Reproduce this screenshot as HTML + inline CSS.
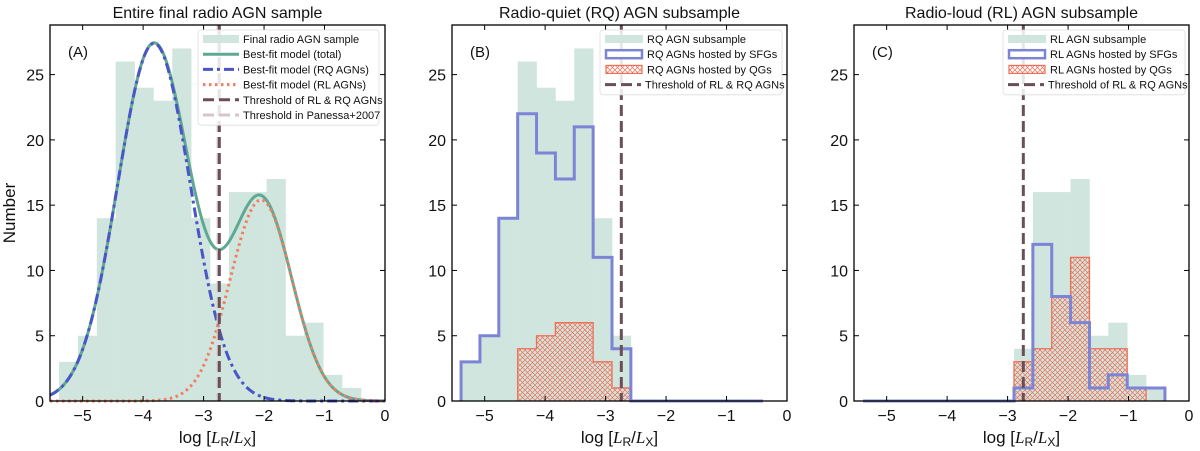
<!DOCTYPE html>
<html><head><meta charset="utf-8">
<style>
body{margin:0;background:#fff;}
svg{display:block;font-family:"Liberation Sans",sans-serif;}
</style></head>
<body>
<svg id="fig" width="1200" height="451" viewBox="0 0 1200 451" xmlns="http://www.w3.org/2000/svg">
<defs>
<pattern id="hatch" patternUnits="userSpaceOnUse" width="5" height="5">
<path d="M0,0 L5,5 M5,0 L0,5" stroke="#f06e55" stroke-width="0.7"/>
</pattern>
</defs>
</svg>
<script>
// ---- data ----
const binStart = -5.39;
const binWidth = 0.312;
const totalCounts = [3,5,14,26,24,23,27,14,9,16,16,17,5,6,2,1];
const rqCounts    = [3,5,14,26,24,23,27,14,5,0,0,0,0,0,0,0];
const rqSfgCounts = [3,5,14,22,19,17,21,11,4,0,0,0,0,0,0,0];
const rqQgCounts  = [0,0,0,4,5,6,6,3,1,0,0,0,0,0,0,0];
const rlCounts    = [0,0,0,0,0,0,0,0,4,16,16,17,5,6,2,1];
const rlSfgCounts = [0,0,0,0,0,0,0,0,1,12,8,6,1,2,1,1];
const rlQgCounts  = [0,0,0,0,0,0,0,0,3,4,8,11,4,4,1,0];
const rqFit = [27.4, -3.82, 0.60];   // amplitude, mean, sigma
const rlFit = [15.4, -2.05, 0.51];
const thresholdRL = -2.74;
const thresholdPanessa = -2.76;
const xTicks = [-5,-4,-3,-2,-1,0];
const yTicks = [0,5,10,15,20,25];
const xlim = [-5.54, 0];
const ylim = [0, 28.8];

const NS = "http://www.w3.org/2000/svg";
const svg = document.getElementById('fig');
function el(tag, attrs, parent){
  const e = document.createElementNS(NS, tag);
  for (const k in attrs) e.setAttribute(k, attrs[k]);
  (parent||svg).appendChild(e);
  return e;
}
const panels = [
  {l:50, r:385, title:"Entire final radio AGN sample", letter:"(A)", key:"a"},
  {l:452, r:787, title:"Radio-quiet (RQ) AGN subsample", letter:"(B)", key:"b"},
  {l:854, r:1189, title:"Radio-loud (RL) AGN subsample", letter:"(C)", key:"c"}
];
const axTop = 25, bot = 401;
function mk(p){
  return {
    x: v => p.l + (v - xlim[0]) / (xlim[1]-xlim[0]) * (p.r - p.l),
    y: v => bot - (v - ylim[0]) / (ylim[1]-ylim[0]) * (bot - axTop)
  };
}
function bars(counts, s, g, fill, name){
  counts.forEach((c,i)=>{
    if(!c) return;
    const x0 = s.x(binStart + i*binWidth), x1 = s.x(binStart + (i+1)*binWidth);
    const r = el('rect',{x:x0,y:s.y(c),width:x1-x0+0.3,height:s.y(0)-s.y(c),fill:fill},g);
    
    
  });
}
function stepPath(counts, s, from, to){
  let d = '';
  for(let i=from;i<=to;i++){
    const x0 = s.x(binStart + i*binWidth), x1 = s.x(binStart + (i+1)*binWidth);
    const y = s.y(counts[i]);
    d += (i===from ? `M${x0},${s.y(0)} L${x0},${y}` : ` L${x0},${y}`) + ` L${x1},${y}`;
  }
  const xe = s.x(binStart + (to+1)*binWidth);
  d += ` L${xe},${s.y(0)}`;
  return d;
}
function hatchBars(counts, s, g, name){
  counts.forEach((c,i)=>{
    if(!c) return;
    const x0 = s.x(binStart + i*binWidth), x1 = s.x(binStart + (i+1)*binWidth);
    const r = el('rect',{x:x0,y:s.y(c),width:x1-x0,height:s.y(0)-s.y(c),fill:'url(#hatch)'},g);
    
    
  });
  let first = counts.findIndex(c=>c>0), last = counts.length-1;
  while(counts[last]===0) last--;
  const p = el('path',{d:stepPath(counts,s,first,last),fill:'none',stroke:'#f06e55','stroke-width':1.3},g);
  
  
}
function gauss(f, v){ return f[0]*Math.exp(-(v-f[1])*(v-f[1])/(2*f[2]*f[2])); }
function curve(fn, s, g, attrs, name){
  let d='';
  for(let k=0;k<=300;k++){
    const v = xlim[0] + (xlim[1]-xlim[0])*k/300;
    d += (k?' L':'M') + s.x(v).toFixed(2) + ',' + s.y(fn(v)).toFixed(2);
  }
  const p = el('path', Object.assign({d:d,fill:'none'},attrs), g);
  
  
}
function vline(v, s, g, color, name){
  const l = el('line',{x1:s.x(v),x2:s.x(v),y1:axTop,y2:bot,stroke:color,'stroke-width':3,'stroke-dasharray':'11,5'},g);
  
  
}
function legend(g, x, y, w, items){
  const h = items.length*15.2 + 4;
  const b = el('rect',{x:x,y:y,width:w,height:h,rx:3,fill:'#fff','fill-opacity':0.85,stroke:'#ddd','stroke-width':0.8},g);
  
  
  items.forEach((it,i)=>{
    const cy = y + 9 + i*15.2;
    const eg = el('g',{},g);
    
    
    const hx = x+5, hw = it.hw || 36;
    if(it.type==='patch') el('rect',{x:hx,y:cy-4,width:hw,height:8,fill:'#cfe5de'},eg);
    else if(it.type==='step') el('rect',{x:hx+1,y:cy-4,width:hw-2,height:8,fill:'#fff',stroke:'#7c84d6','stroke-width':2.5},eg);
    else if(it.type==='hatch') el('rect',{x:hx+1,y:cy-4,width:hw-2,height:8,fill:'url(#hatch)',stroke:'#f06e55','stroke-width':1.2},eg);
    else el('line',Object.assign({x1:hx,x2:hx+hw,y1:cy,y2:cy},it.st),eg);
    const t = el('text',{x:hx+hw+4,y:cy+4,'font-size':11,fill:'#111'},eg);
    t.textContent = it.label;
  });
}

panels.forEach(p=>{
  const s = mk(p);
  const g = el('g',{});
  
  
  const t = el('text',{x:(p.l+p.r)/2,y:18,'text-anchor':'middle','font-size':16,fill:'#111'},g);
  
  
  t.textContent = p.title;

  if(p.key==='a'){
    bars(totalCounts, s, g, '#cfe5de', 'total');
    curve(v=>gauss(rqFit,v)+gauss(rlFit,v), s, g, {stroke:'#5fa893','stroke-width':3}, 'fit-total');
    curve(v=>gauss(rqFit,v), s, g, {stroke:'#4a55c8','stroke-width':3,'stroke-dasharray':'10,4,3,4'}, 'fit-rq');
    curve(v=>gauss(rlFit,v), s, g, {stroke:'#f37d5e','stroke-width':3,'stroke-dasharray':'2.5,3.5'}, 'fit-rl');
    vline(thresholdPanessa, s, g, '#d6c6c9', 'threshold-panessa');
    vline(thresholdRL, s, g, '#6b4f56', 'threshold-rl-rq');
  } else if(p.key==='b'){
    bars(rqCounts, s, g, '#cfe5de', 'rq');
    hatchBars(rqQgCounts, s, g, 'rq-qg');
    const sp = el('path',{d:stepPath(rqSfgCounts,s,0,15),fill:'none',stroke:'#7c84d6','stroke-width':3},g);
    
    
    vline(thresholdRL, s, g, '#6b4f56', 'threshold-rl-rq');
  } else {
    bars(rlCounts, s, g, '#cfe5de', 'rl');
    hatchBars(rlQgCounts, s, g, 'rl-qg');
    const sp = el('path',{d:stepPath(rlSfgCounts,s,0,15),fill:'none',stroke:'#7c84d6','stroke-width':3},g);
    
    
    vline(thresholdRL, s, g, '#6b4f56', 'threshold-rl-rq');
  }

  const fr = el('rect',{x:p.l,y:axTop,width:p.r-p.l,height:bot-axTop,fill:'none',stroke:'#000','stroke-width':1.3},g);
  
  
  xTicks.forEach(v=>{
    el('line',{x1:s.x(v),x2:s.x(v),y1:bot,y2:bot-5,stroke:'#000','stroke-width':1},g);
    el('line',{x1:s.x(v),x2:s.x(v),y1:axTop,y2:axTop+5,stroke:'#000','stroke-width':1},g);
    const tl = el('text',{x:s.x(v),y:bot+20,'text-anchor':'middle','font-size':16,fill:'#111'},g);
    
    
    tl.textContent = v<0 ? '\u2212'+Math.abs(v) : String(v);
  });
  yTicks.forEach(v=>{
    el('line',{x1:p.l,x2:p.l+5,y1:s.y(v),y2:s.y(v),stroke:'#000','stroke-width':1},g);
    el('line',{x1:p.r,x2:p.r-5,y1:s.y(v),y2:s.y(v),stroke:'#000','stroke-width':1},g);
    const tl = el('text',{x:p.l-6,y:s.y(v)+6,'text-anchor':'end','font-size':16,fill:'#111'},g);
    
    
    tl.textContent = v;
  });
  const xl = el('text',{x:(p.l+p.r)/2,y:443,'text-anchor':'middle','font-size':17,fill:'#111'},g);
  
  
  xl.innerHTML = 'log [<tspan font-family="Liberation Serif" font-style="italic">L</tspan><tspan font-size="12" dy="3">R</tspan><tspan dy="-3">/</tspan><tspan font-family="Liberation Serif" font-style="italic">L</tspan><tspan font-size="12" dy="3">X</tspan><tspan dy="-3">]</tspan>';
  const lt = el('text',{x:p.l+18,y:57,'font-size':15,fill:'#111'},g);
  
  
  lt.textContent = p.letter;

  const lg = el('g',{},g);
  
  
  if(p.key==='a'){
    legend(lg, 198, 30, 181, [
      {type:'patch',label:'Final radio AGN sample'},
      {type:'line',label:'Best-fit model (total)',st:{stroke:'#5fa893','stroke-width':3}},
      {type:'line',label:'Best-fit model (RQ AGNs)',st:{stroke:'#4a55c8','stroke-width':3,'stroke-dasharray':'10,4,3,4'}},
      {type:'line',label:'Best-fit model (RL AGNs)',st:{stroke:'#f37d5e','stroke-width':3,'stroke-dasharray':'2.5,3.5'}},
      {type:'line',label:'Threshold of RL & RQ AGNs',st:{stroke:'#6b4f56','stroke-width':3,'stroke-dasharray':'11,5'}},
      {type:'line',label:'Threshold in Panessa+2007',st:{stroke:'#d6c6c9','stroke-width':3,'stroke-dasharray':'11,5'}}
    ]);
  } else {
    const w = p.key==='b' ? 'RQ' : 'RL';
    legend(lg, p.key==='b'?600:1003, 30, 182, [
      {type:'patch',label:w+' AGN subsample',hw:38},
      {type:'step',label:w+' AGNs hosted by SFGs',hw:38},
      {type:'hatch',label:w+' AGNs hosted by QGs',hw:38},
      {type:'line',label:'Threshold of RL & RQ AGNs',hw:36,st:{stroke:'#6b4f56','stroke-width':3,'stroke-dasharray':'11,5'}}
    ]);
  }
});
const yl = el('text',{x:0,y:0,'text-anchor':'middle','font-size':17,fill:'#111',transform:'translate(15,213) rotate(-90)'});


yl.textContent = 'Number';
</script>
</body></html>
